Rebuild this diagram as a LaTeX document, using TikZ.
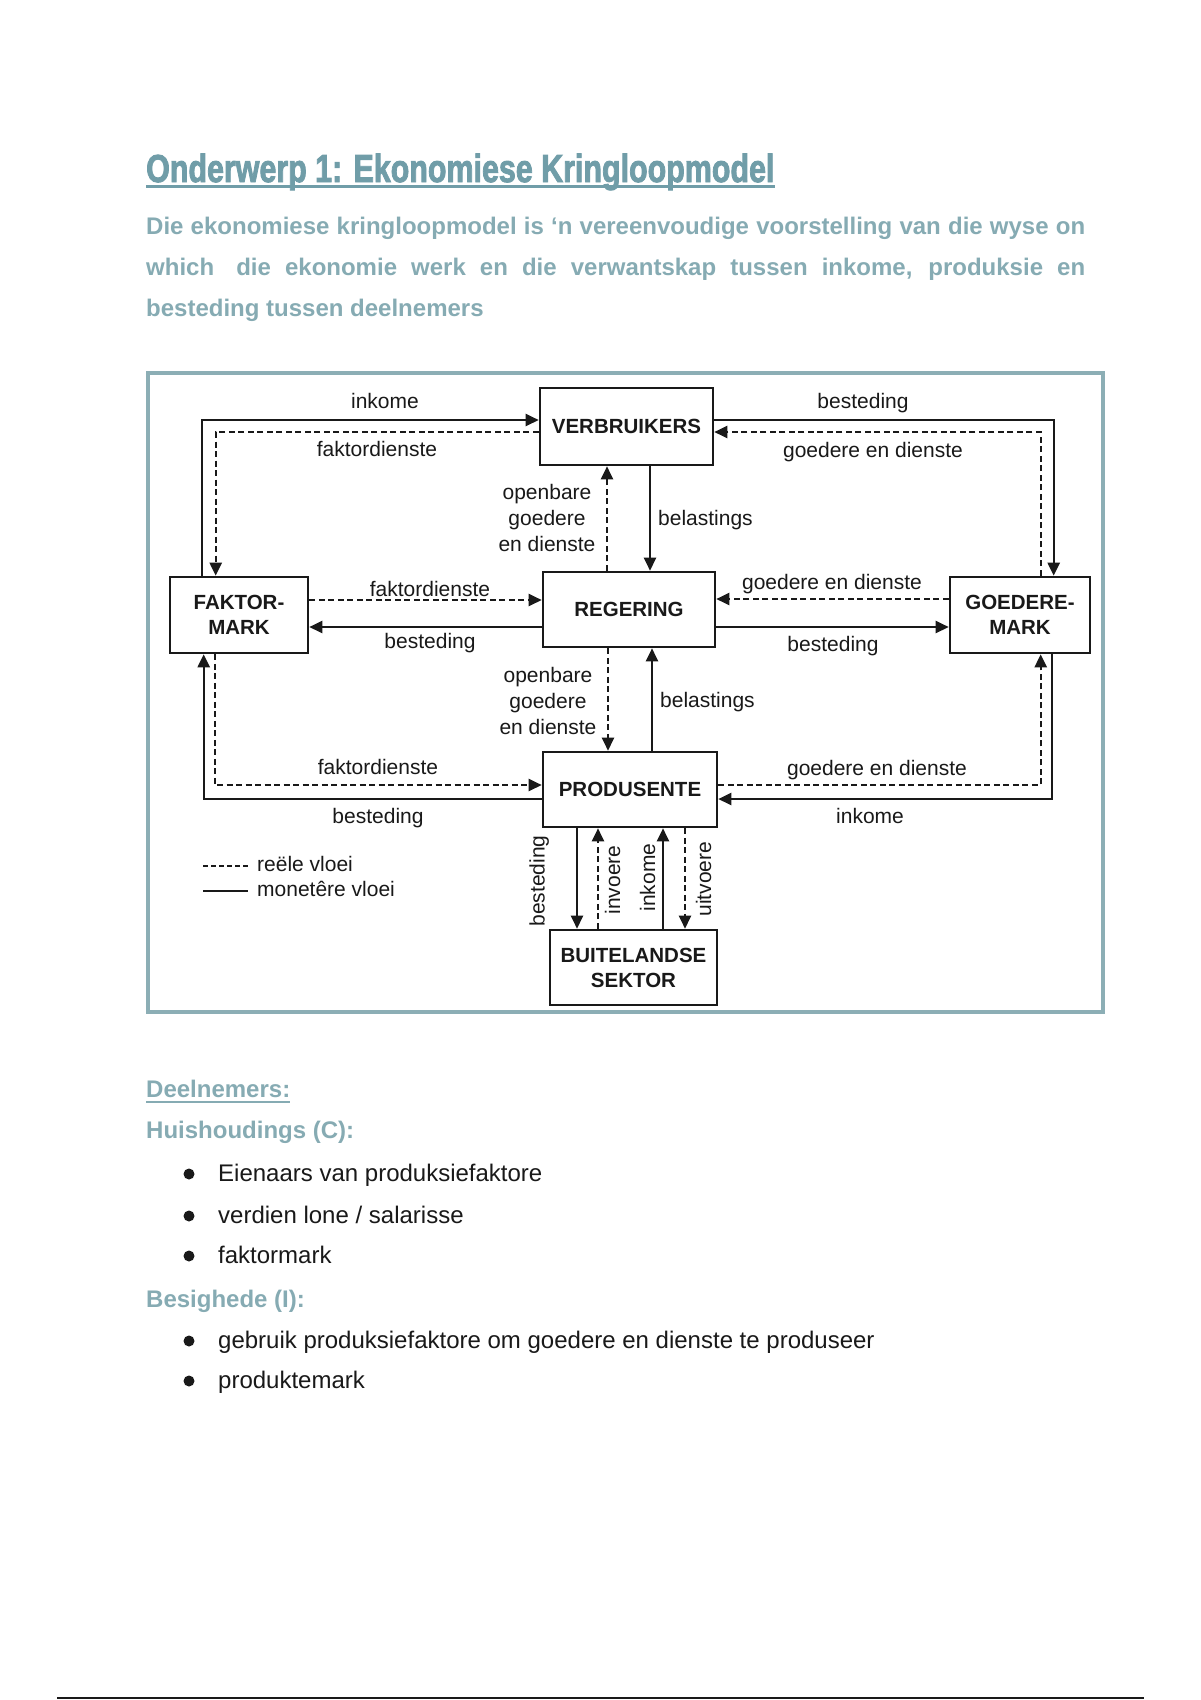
\documentclass[tikz,border=0pt]{standalone}
\usepackage{fontspec}
\setmainfont{Liberation Sans}
\newfontfamily\heavyfont[FakeBold=2.5]{Liberation Sans Bold}
\usetikzlibrary{arrows.meta,calc}
\definecolor{titlec}{RGB}{112,157,168}
\definecolor{parac}{RGB}{134,171,179}
\definecolor{framec}{RGB}{140,174,181}
\definecolor{ink}{RGB}{25,25,25}
\begin{document}
\begin{tikzpicture}[x=1pt,y=-1pt,
  box/.style={draw=ink, line width=2.6pt, fill=white, inner sep=0pt, align=center,
    font=\fontsize{20.5}{25}\selectfont\bfseries, text=ink},
  money/.style={draw=ink, line width=2.4pt, -{Triangle[length=13pt,width=12pt]}},
  real/.style={draw=ink, line width=2.3pt, dash pattern=on 6pt off 3.5pt, -{Triangle[length=13pt,width=12pt]}},
  lbl/.style={font=\fontsize{21}{26}\selectfont, inner sep=0pt, text=ink, text height=15.5pt, text depth=4.5pt},
  mlbl/.style={font=\fontsize{21}{26}\selectfont, inner sep=0pt, text=ink, align=center},
  para/.style={font=\fontsize{24}{24}\selectfont\bfseries, text=parac, inner sep=0pt, anchor=base west},
  body/.style={font=\fontsize{24}{24}\selectfont, text=ink, inner sep=0pt, anchor=base west},
  dot/.style={circle, fill=ink, inner sep=0pt, minimum size=11pt},
]
\useasboundingbox[fill=white] (0,0) rectangle (1200,1700);

% ---------- heading ----------
\node[anchor=base west, inner sep=0pt, text=titlec] (title) at (146,182)
  {\scalebox{0.78}[1]{\fontsize{39}{39}\heavyfont Onderwerp 1: Ekonomiese Kringloopmodel}};
\draw[titlec, line width=3.5pt] ([yshift=-4.5pt]title.base west) -- ([yshift=-4.5pt]title.base east);

\node[para] (p1) at (146,234) {\makebox[939pt][s]{Die ekonomiese kringloopmodel is ‘n vereenvoudige voorstelling van die wyse on}};
\node[para] (p2) at (146,275) {\makebox[939pt][s]{which\hspace{8pt} die ekonomie werk en die verwantskap tussen inkome, produksie en}};
\node[para] (p3) at (146,316) {besteding tussen deelnemers};

% ---------- frame ----------
\draw[framec, line width=3.5pt] (148,373) rectangle (1103,1012);

% ---------- boxes ----------
\node[box, minimum width=173pt, minimum height=77pt] (VER) at (626.5,426.5) {VERBRUIKERS};
\node[box, minimum width=172pt, minimum height=75pt] (REG) at (629,609.5) {REGERING};
\node[box, minimum width=174pt, minimum height=75pt] (PRO) at (630,789.5) {PRODUSENTE};
\node[box, minimum width=138pt, minimum height=76pt] (FAK) at (239,615) {FAKTOR-\\MARK};
\node[box, minimum width=140pt, minimum height=76pt] (GOE) at (1020,615) {GOEDERE-\\MARK};
\node[box, minimum width=167pt, minimum height=75pt] (BUI) at (633.5,967.5) {BUITELANDSE\\SEKTOR};

% ---------- connectors ----------
% upper left
\draw[money] ([xshift=33pt]FAK.north west) |- ([yshift=6.5pt]VER.west);
\draw[real] ([yshift=-5.5pt]VER.west) -| ([xshift=47pt]FAK.north west);
% upper right
\draw[money] ([yshift=6.5pt]VER.east) -| ([xshift=105pt]GOE.north west);
\draw[real] ([xshift=92pt]GOE.north west) |- ([yshift=-5.5pt]VER.east);
% verbruikers - regering
\coordinate (r1) at ([xshift=-22pt]REG.north);
\draw[real] (r1) -- (r1 |- VER.south);
\coordinate (r2) at ([xshift=21pt]REG.north);
\draw[money] (r2 |- VER.south) -- (r2);
% middle row
\coordinate (m1) at ([yshift=15pt]FAK.east);
\draw[real] (m1) -- (m1 -| REG.west);
\coordinate (m2) at ([yshift=-17.5pt]REG.west);
\draw[money] (m2) -- (m2 -| FAK.east);
\coordinate (m3) at ([yshift=16pt]GOE.west);
\draw[real] (m3) -- (m3 -| REG.east);
\coordinate (m4) at ([yshift=-17.5pt]REG.east);
\draw[money] (m4) -- (m4 -| GOE.west);
% regering - produsente
\coordinate (r3) at ([xshift=-21pt]REG.south);
\draw[real] (r3) -- (r3 |- PRO.north);
\coordinate (r4) at ([xshift=23pt]REG.south);
\draw[money] (r4 |- PRO.north) -- (r4);
% lower left
\draw[money] ([yshift=-9.5pt]PRO.west) -| ([xshift=35pt]FAK.south west);
\draw[real] ([xshift=46pt]FAK.south west) |- ([yshift=4.5pt]PRO.west);
% lower right
\draw[real] ([yshift=4.5pt]PRO.east) -| ([xshift=92pt]GOE.south west);
\draw[money] ([xshift=103pt]GOE.south west) |- ([yshift=-9.5pt]PRO.east);
% produsente - buitelandse sektor
\coordinate (q1) at ([xshift=-53pt]PRO.south);
\draw[money] (q1) -- (q1 |- BUI.north);
\coordinate (q2) at ([xshift=-32pt]PRO.south);
\draw[real] (q2 |- BUI.north) -- (q2);
\coordinate (q3) at ([xshift=33pt]PRO.south);
\draw[money] (q3 |- BUI.north) -- (q3);
\coordinate (q4) at ([xshift=55pt]PRO.south);
\draw[real] (q4) -- (q4 |- BUI.north);

% ---------- labels ----------
\node[lbl] (l1) at (385,402.5) {inkome};
\node[lbl] (l2) at (377,451) {faktordienste};
\node[lbl] (l3) at (863,402.5) {besteding};
\node[lbl] (l4) at (873,451.5) {goedere en dienste};
\node[mlbl] (l5) at (547,518) {openbare\\goedere\\en dienste};
\node[lbl, anchor=west] (l6) at (658,519.5) {belastings};
\node[lbl] (l7) at (430,591) {faktordienste};
\node[lbl] (l8) at (430,642.5) {besteding};
\node[lbl] (l9) at (832,583.5) {goedere en dienste};
\node[lbl] (l10) at (833,645.5) {besteding};
\node[mlbl] (l11) at (548,701) {openbare\\goedere\\en dienste};
\node[lbl, anchor=west] (l12) at (660,701.5) {belastings};
\node[lbl] (l13) at (378,768.5) {faktordienste};
\node[lbl] (l14) at (378,817.5) {besteding};
\node[lbl] (l15) at (877,769.5) {goedere en dienste};
\node[lbl] (l16) at (870,817.5) {inkome};
\node[lbl, rotate=90] (l17) at (539,881) {besteding};
\node[lbl, rotate=90] (l18) at (614.5,880) {invoere};
\node[lbl, rotate=90] (l19) at (649.5,877.5) {inkome};
\node[lbl, rotate=90] (l20) at (705.5,879) {uitvoere};

% ---------- legend ----------
\coordinate (lg1) at (203,866);
\coordinate (lg2) at (248,866);
\coordinate (lg3) at (203,891);
\coordinate (lg4) at (248,891);
\draw[ink, line width=2.3pt, dash pattern=on 5pt off 3pt] (lg1) -- (lg2);
\draw[ink, line width=2.3pt] (lg3) -- (lg4);
\node[lbl, anchor=west] (lgt1) at (257,866) {reële vloei};
\node[lbl, anchor=west] (lgt2) at (257,891) {monetêre vloei};

% ---------- participants ----------
\node[para] (deel) at (146,1097) {Deelnemers:};
\draw[parac, line width=2.5pt] ([yshift=-5pt]deel.base west) -- ([yshift=-5pt]deel.base east);
\node[para] (huis) at (146,1138) {Huishoudings (C):};
\node[dot] (d1) at (189,1174) {};
\node[body] (t1) at (218,1181) {Eienaars van produksiefaktore};
\node[dot] (d2) at (189,1216) {};
\node[body] (t2) at (218,1223) {verdien lone / salarisse};
\node[dot] (d3) at (189,1256) {};
\node[body] (t3) at (218,1263) {faktormark};
\node[para] (besig) at (146,1307) {Besighede (I):};
\node[dot] (d4) at (189,1341) {};
\node[body] (t4) at (218,1348) {gebruik produksiefaktore om goedere en dienste te produseer};
\node[dot] (d5) at (189,1381) {};
\node[body] (t5) at (218,1388) {produktemark};

% ---------- bottom rule ----------
\draw[ink, line width=2.5pt] (57,1698) -- (1144,1698);
\end{tikzpicture}
\end{document}
